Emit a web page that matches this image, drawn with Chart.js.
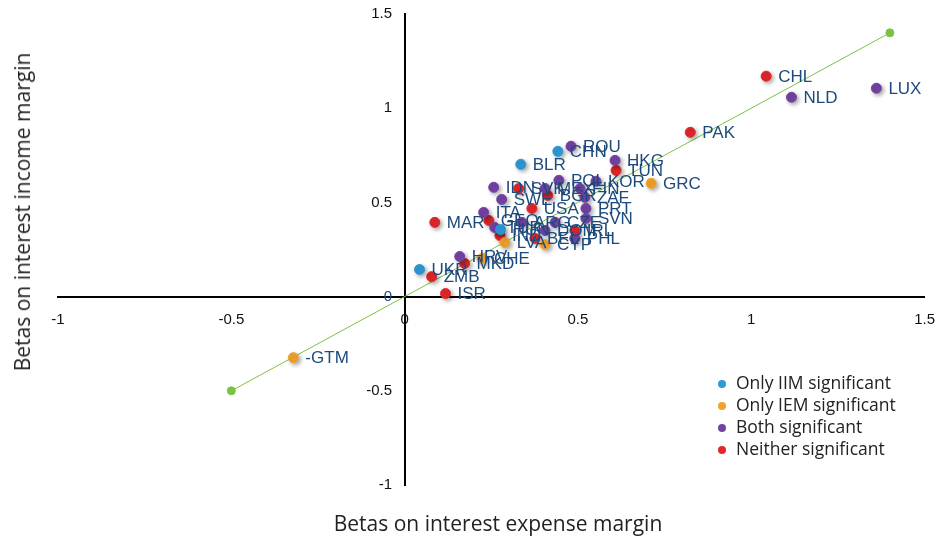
<!DOCTYPE html>
<html>
<head>
<meta charset="utf-8">
<script src="https://cdn.jsdelivr.net/npm/chart.js@4.4.1/dist/chart.umd.min.js"></script>
<style>
  body { margin: 0; background: #fff; }
  #wrap { position: relative; width: 938px; height: 536px; }
  .title { position: absolute; font-family: "Open Sans", sans-serif; font-size: 21px; color: #222; white-space: nowrap; }
  #xTitle { left: 0; width: 996px; top: 509px; text-align: center; }
  #yTitle { left: 22px; top: 212px; transform: translate(-50%, -50%) rotate(-90deg); }
  #legend { position: absolute; left: 716px; top: 371px; font-family: "Open Sans", sans-serif; font-size: 17.5px; color: #222; }
  #legend div { height: 22px; line-height: 22px; }
  #legend span { display: inline-block; width: 8px; height: 8px; border-radius: 50%; margin: 0 10px 1px 2px; vertical-align: middle; }
</style>
</head>
<body>
<div id="wrap">
  <canvas id="scatterChart" width="938" height="536"></canvas>
  <div id="xTitle" class="title">Betas on interest expense margin</div>
  <div id="yTitle" class="title">Betas on interest income margin</div>
  <div id="legend"></div>
</div>
<script>
// x = beta on interest expense margin, y = beta on interest income margin
const iimNames = ["UKR", "BLR", "CHN", "HUN"];
const iimX = [0.043, 0.335, 0.442, 0.277];
const iimY = [0.144, 0.702, 0.771, 0.356];

const iemNames = ["-GTM", "GRC", "LVA", "CHE", "CYP"];
const iemX = [-0.321, 0.711, 0.289, 0.223, 0.405];
const iemY = [-0.324, 0.601, 0.287, 0.202, 0.277];

const bothNames = ["ROU", "HKG", "POL", "KOR", "IDN", "SWE", "MEX", "FIN", "ZAF", "PRT", "ITA", "ARG", "CZE", "SVN", "TUR", "DOM", "HRV", "NLD", "LUX", "PHL"];
const bothX = [0.480, 0.607, 0.445, 0.552, 0.257, 0.280, 0.405, 0.506, 0.520, 0.523, 0.228, 0.338, 0.434, 0.523, 0.260, 0.405, 0.159, 1.116, 1.361, 0.491];
const bothY = [0.798, 0.723, 0.617, 0.612, 0.580, 0.516, 0.574, 0.574, 0.527, 0.468, 0.447, 0.394, 0.394, 0.415, 0.367, 0.351, 0.213, 1.058, 1.106, 0.309];

const neitherNames = ["CHL", "PAK", "TUN", "SVK", "BGR", "USA", "MAR", "GEO", "IND", "BEL", "IRL", "MKD", "ZMB", "ISR"];
const neitherX = [1.043, 0.824, 0.610, 0.329, 0.413, 0.367, 0.087, 0.243, 0.275, 0.376, 0.491, 0.173, 0.078, 0.118];
const neitherY = [1.170, 0.872, 0.670, 0.574, 0.537, 0.468, 0.394, 0.404, 0.324, 0.309, 0.351, 0.176, 0.106, 0.016];

// 45 degree reference line
const lineX = [-0.5, 1.4];
const lineY = [-0.5, 1.4];

const xTicks = [-1, -0.5, 0, 0.5, 1, 1.5];
const yTicks = [-1, -0.5, 0, 0.5, 1, 1.5];

const groups = [
    { label: "Only IIM significant", color: "#2e9ad8", names: iimNames, xs: iimX, ys: iimY },
    { label: "Only IEM significant", color: "#f2a22c", names: iemNames, xs: iemX, ys: iemY },
    { label: "Both significant", color: "#7443a3", names: bothNames, xs: bothX, ys: bothY },
    { label: "Neither significant", color: "#e3262a", names: neitherNames, xs: neitherX, ys: neitherY }
];

function toPoints(xs, ys) {
    return xs.map((x, i) => ({ x: x, y: ys[i] }));
}

let datasets = groups.map(g => ({
    type: "scatter",
    label: g.label,
    names: g.names,
    data: toPoints(g.xs, g.ys),
    backgroundColor: g.color,
    borderColor: g.color,
    pointRadius: 5,
    pointHoverRadius: 5,
    order: 1
}));

datasets.push({
    type: "line",
    label: "45 degree",
    data: toPoints(lineX, lineY),
    borderColor: "#7cc242",
    backgroundColor: "#7cc242",
    borderWidth: 1,
    pointRadius: 4,
    order: 2
});

// soft shadow under the markers
const shadowPlugin = {
    id: "markerShadow",
    beforeDatasetDraw(chart, args) {
        let ctx = chart.ctx;
        ctx.save();
        if (args.meta.type === "scatter") {
            ctx.shadowColor = "rgba(0,0,0,0.35)";
            ctx.shadowBlur = 4;
            ctx.shadowOffsetX = 2;
            ctx.shadowOffsetY = 2;
        }
    },
    afterDatasetDraw(chart) {
        chart.ctx.restore();
    }
};

// country codes next to each point
const labelPlugin = {
    id: "pointLabels",
    afterDatasetsDraw(chart) {
        let ctx = chart.ctx;
        ctx.save();
        ctx.font = "17px 'Liberation Sans', Arial, sans-serif";
        ctx.fillStyle = "#1c4a7c";
        ctx.textAlign = "left";
        ctx.textBaseline = "middle";
        chart.data.datasets.forEach((ds, di) => {
            if (!ds.names) return;
            let meta = chart.getDatasetMeta(di);
            meta.data.forEach((pt, i) => {
                ctx.fillText(ds.names[i], pt.x + 12, pt.y + 1);
            });
        });
        ctx.restore();
    }
};

let ctx = document.getElementById("scatterChart").getContext("2d");
let chart = new Chart(ctx, {
    data: { datasets: datasets },
    options: {
        responsive: false,
        animation: false,
        devicePixelRatio: 1,
        layout: { padding: { left: 58, right: 4, top: 14, bottom: 51 } },
        plugins: {
            legend: { display: false },
            tooltip: { enabled: false }
        },
        scales: {
            x: {
                type: "linear",
                position: { y: 0 },
                min: -1,
                max: 1.5,
                afterBuildTicks: axis => { axis.ticks = xTicks.map(v => ({ value: v })); },
                grid: { display: false, drawTicks: true, tickLength: 11 },
                border: { display: true, color: "#000", width: 2 },
                ticks: {
                    padding: 3,
                    color: "#111",
                    font: { family: "'Liberation Sans', Arial, sans-serif", size: 15 },
                    callback: v => String(v)
                }
            },
            y: {
                type: "linear",
                position: { x: 0 },
                min: -1,
                max: 1.5,
                afterBuildTicks: axis => { axis.ticks = yTicks.map(v => ({ value: v })); },
                grid: { display: false, drawTicks: false },
                border: { display: true, color: "#000", width: 2 },
                ticks: {
                    color: c => c.tick.value === 0 ? "#1c4a7c" : "#111",
                    font: { family: "'Liberation Sans', Arial, sans-serif", size: 15 },
                    // centred axis draws labels flush against the line, so pad with spaces
                    callback: v => String(v) + "   "
                }
            }
        }
    },
    plugins: [shadowPlugin, labelPlugin]
});

// legend built from the groups
let legend = document.getElementById("legend");
groups.forEach(g => {
    let row = document.createElement("div");
    row.innerHTML = `<span style="background:${g.color}"></span>${g.label}`;
    legend.appendChild(row);
});
</script>
</body>
</html>
